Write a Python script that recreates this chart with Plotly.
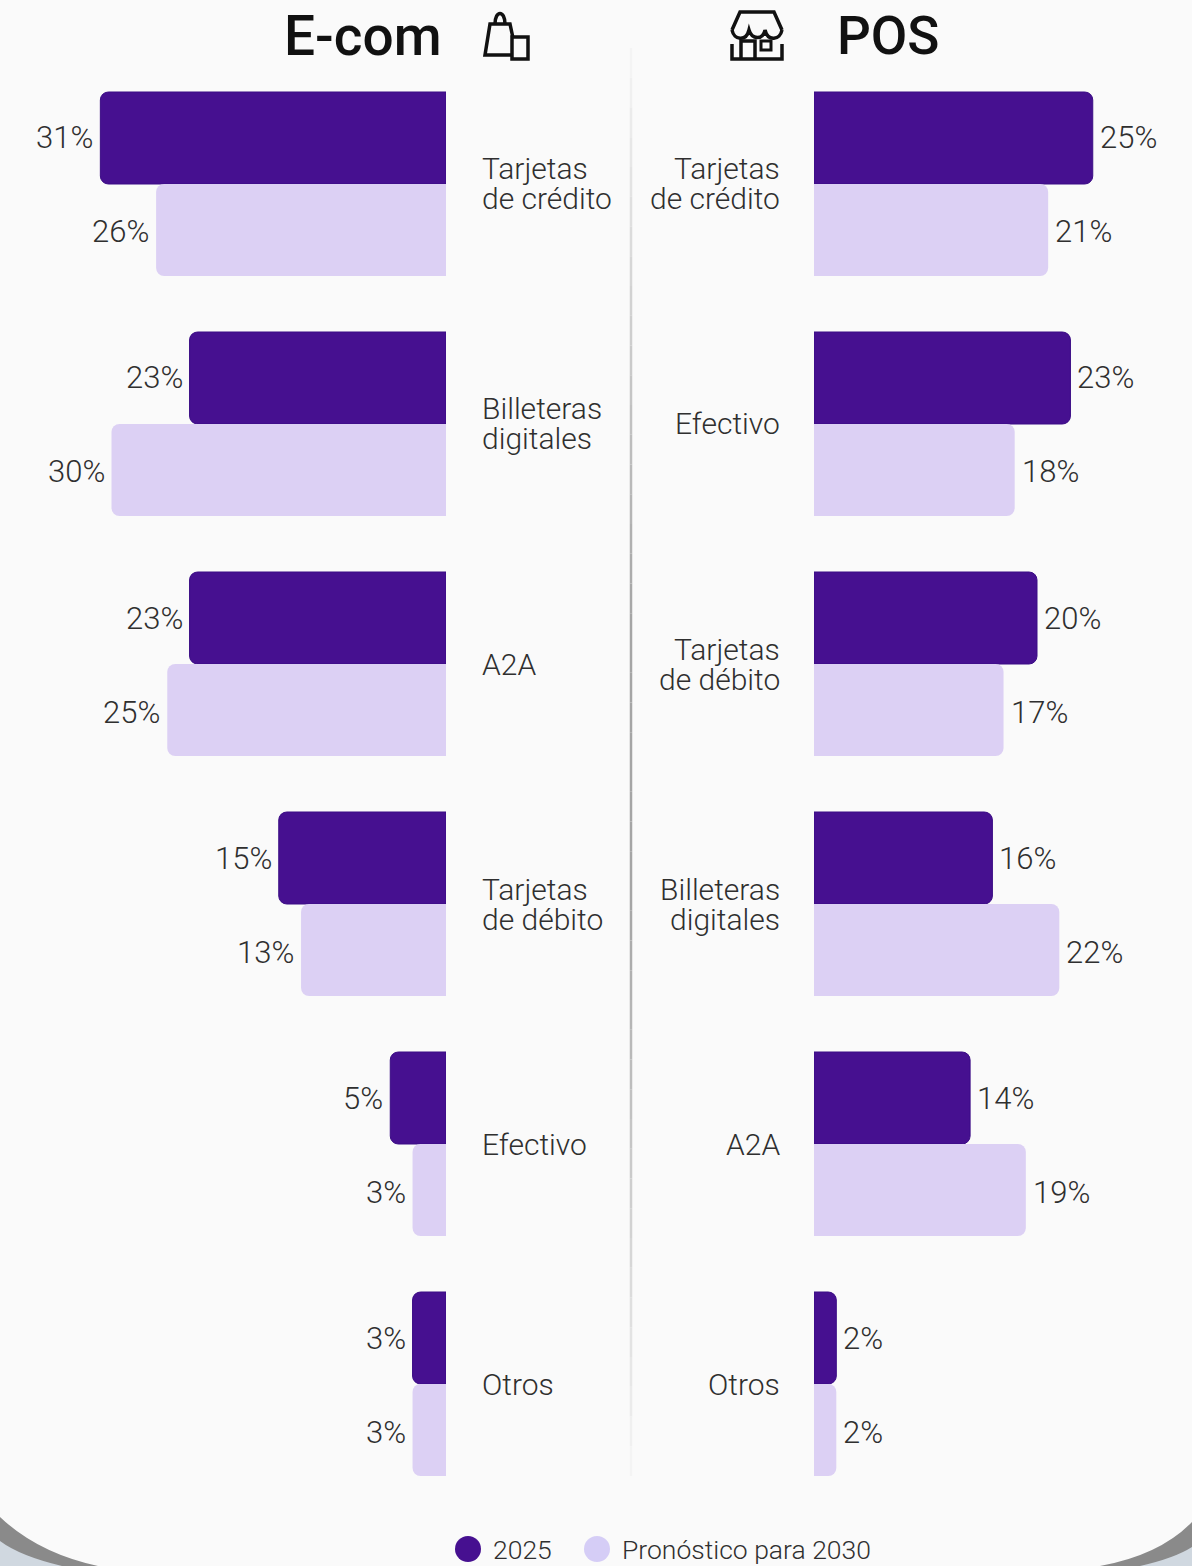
import plotly.graph_objects as go

W, H = 1192, 1566
PX_PER_PCT = 11.15
FONT = "Roboto"
INK = "#2f2f2f"
DARK = "#461090"
DARK_EDGE = "#3B0C85"
LIGHT = "#DCD0F4"
BG = "#FAFAFA"

ecom_categories = ["Tarjetas de crédito", "Billeteras digitales", "A2A", "Tarjetas de débito", "Efectivo", "Otros"]
ecom_2025 = [31, 23, 23, 15, 5, 3]
ecom_2030 = [26, 30, 25, 13, 3, 3]

pos_categories = ["Tarjetas de crédito", "Efectivo", "Tarjetas de débito", "Billeteras digitales", "A2A", "Otros"]
pos_2025 = [25, 23, 20, 16, 14, 2]
pos_2030 = [21, 18, 17, 22, 19, 2]

label_lines = {
    "Tarjetas de crédito": ["Tarjetas", "de crédito"],
    "Billeteras digitales": ["Billeteras", "digitales"],
    "Tarjetas de débito": ["Tarjetas", "de débito"],
    "A2A": ["A2A"],
    "Efectivo": ["Efectivo"],
    "Otros": ["Otros"],
}
legend_names = ["2025", "Pronóstico para 2030"]

def px(x): return x / W
def py(y): return 1 - y / H

def path(cmds):
    out = []
    for c in cmds:
        if isinstance(c, str):
            out.append(c)
        else:
            out.append(f"{px(c[0]):.5f},{py(c[1]):.5f}")
    return " ".join(out)

fig = go.Figure()

def bars(cats, v, name, color, xa, ya, edge=None):
    fig.add_trace(go.Bar(
        y=cats, x=v, name=name, orientation="h",
        marker=dict(color=color, line=dict(width=1 if edge else 0, color=edge or color)),
        showlegend=False, cliponaxis=False,
        xaxis=xa, yaxis=ya, hoverinfo="skip"))

bars(ecom_categories, ecom_2025, legend_names[0], DARK, "x", "y", DARK_EDGE)
bars(ecom_categories, ecom_2030, legend_names[1], LIGHT, "x", "y")
bars(pos_categories, pos_2025, legend_names[0], DARK, "x2", "y2", DARK_EDGE)
bars(pos_categories, pos_2030, legend_names[1], LIGHT, "x2", "y2")

LEFT_BASE, RIGHT_BASE = 446, 814
ydom = [py(1504), py(64)]
hidden = dict(visible=False, showgrid=False, zeroline=False, fixedrange=True)
layout = dict(
    width=W, height=H, margin=dict(l=0, r=0, t=0, b=0, pad=0),
    paper_bgcolor=BG, plot_bgcolor="rgba(0,0,0,0)",
    barmode="group", bargap=56 / 240, bargroupgap=0, barcornerradius=8,
    showlegend=False,
    xaxis=dict(domain=[0, px(LEFT_BASE)], range=[LEFT_BASE / PX_PER_PCT, 0], **hidden),
    xaxis2=dict(domain=[px(RIGHT_BASE), 1], range=[0, (W - RIGHT_BASE) / PX_PER_PCT], **hidden),
    yaxis=dict(domain=ydom, type="category", categoryorder="array", categoryarray=ecom_categories, range=[5.5, -0.5], anchor="x", **hidden),
    yaxis2=dict(domain=ydom, type="category", categoryorder="array", categoryarray=pos_categories, range=[5.5, -0.5], anchor="x2", **hidden),
)
fig.update_layout(**layout)

ann = []
def cat_labels(cats, xref, yref, xshift, anchor):
    for c in cats:
        lines = label_lines[c]
        for i, t in enumerate(lines):
            ann.append(dict(text=t, x=0, y=c, xref=xref, yref=yref, xshift=xshift, xanchor=anchor,
                            yshift=(len(lines) - 1) * 15 - i * 30, yanchor="middle", showarrow=False,
                            borderpad=0, font=dict(family=FONT, size=30, color=INK, weight=300)))
cat_labels(ecom_categories, "x", "y", 35, "left")
cat_labels(pos_categories, "x2", "y2", -33, "right")

def value_labels(cats, vals, xref, yref, xshift, anchor, yshift):
    for c, v in zip(cats, vals):
        ann.append(dict(text=f"{v}%", x=v, y=c, xref=xref, yref=yref, xshift=xshift, xanchor=anchor,
                        yshift=yshift, yanchor="middle", showarrow=False, borderpad=0,
                        font=dict(family=FONT, size=31, color=INK, weight=300)))
value_labels(ecom_categories, ecom_2025, "x", "y", -6, "right", 46)
value_labels(ecom_categories, ecom_2030, "x", "y", -6, "right", -48)
value_labels(pos_categories, pos_2025, "x2", "y2", 6, "left", 46)
value_labels(pos_categories, pos_2030, "x2", "y2", 6, "left", -48)

def page_text(t, x, y, size, anchor, color=INK, family=FONT, **kw):
    ann.append(dict(text=t, x=px(x), y=py(y), xref="paper", yref="paper", xanchor=anchor, yanchor="middle",
                    showarrow=False, borderpad=0, font=dict(family=family, size=size, color=color, **kw)))
page_text("E-com", 443, 36, 55, "right", "#111111", weight=500)
page_text("POS", 836, 36, 53, "left", "#111111", weight=500)
page_text(legend_names[0], 492, 1549, 26.5, "left", weight=300)
page_text(legend_names[1], 621, 1549, 26.5, "left", weight=300)
fig.update_layout(annotations=ann)

shapes = []
def shp(cmds, fill=None, line=None, width=0):
    shapes.append(dict(type="path", path=path(cmds), xref="paper", yref="paper",
                       fillcolor=fill or "rgba(0,0,0,0)", line=dict(color=line or "rgba(0,0,0,0)", width=width), layer="above"))

# centre rule, fading towards both ends
RULE_TOP, RULE_BOTTOM, RULE_STEPS = 48, 1476, 48
for i in range(RULE_STEPS):
    t = (i + 0.5) / RULE_STEPS
    fade = min(t / 0.4, (1 - t) / 0.4, 1.0)
    g = round(246 - (246 - 165) * fade)
    y0 = RULE_TOP + (RULE_BOTTOM - RULE_TOP) * i / RULE_STEPS
    y1 = RULE_TOP + (RULE_BOTTOM - RULE_TOP) * (i + 1) / RULE_STEPS
    shapes.append(dict(type="line", xref="paper", yref="paper", x0=px(631), x1=px(631), y0=py(y0), y1=py(y1),
                       line=dict(color=f"rgb({g},{g},{g})", width=2.5)))

# legend dots
for cx, c in ((468, DARK), (597, "#D5CDF6")):
    shapes.append(dict(type="circle", xref="paper", yref="paper", x0=px(cx - 13), x1=px(cx + 13),
                       y0=py(1549 + 13), y1=py(1549 - 13), fillcolor=c, line=dict(width=0)))

# bag icon
K = "#111111"
shp(["M", (512, 55), "L", (485, 55), "L", (490, 24), "L", (510, 24), "L", (513, 38)], line=K, width=3.5)
shp(["M", (495, 24), "C", (495, 10), (505, 10), (505, 24)], line=K, width=3.5)
shp(["M", (512, 37), "L", (528, 37), "L", (528, 59), "L", (512, 59), "Z"], line=K, width=3.5, fill=BG)
# shop icon
shp(["M", (732, 44), "L", (732, 59), "L", (782, 59), "L", (782, 44)], line=K, width=3.5)
shp(["M", (732, 30), "L", (740, 12), "L", (774, 12), "L", (782, 30)], line=K, width=3.5)
shp(["M", (732, 30), "C", (734, 40), (746, 42), (749, 30), "C", (752, 40), (763, 40), (765, 30),
     "C", (768, 42), (780, 40), (782, 30)], line=K, width=3.5)
shp(["M", (741, 59), "L", (741, 41), "L", (755, 41), "L", (755, 59)], line=K, width=3.5)
shp(["M", (761, 41), "L", (771, 41), "L", (771, 50), "L", (761, 50), "Z"], line=K, width=3)

# device-frame corners at the bottom
shp(["M", (0, 1517), "Q", (38, 1553), (98, 1566), "L", (0, 1566), "Z"], fill="#8A8A8A")
shp(["M", (0, 1541), "Q", (20, 1556), (62, 1566), "L", (0, 1566), "Z"], fill="#D0D8E0")
shp(["M", (1192, 1522), "Q", (1160, 1555), (1100, 1566), "L", (1192, 1566), "Z"], fill="#8A8A8A")
shp(["M", (1192, 1547), "Q", (1175, 1558), (1140, 1566), "L", (1192, 1566), "Z"], fill="#D0D8E0")

fig.update_layout(shapes=shapes)
fig.write_html("out.html", config={"displayModeBar": False},
               post_script="document.body.style.margin='0';document.body.style.background='#FAFAFA';window.dispatchEvent(new Event('resize'));")
